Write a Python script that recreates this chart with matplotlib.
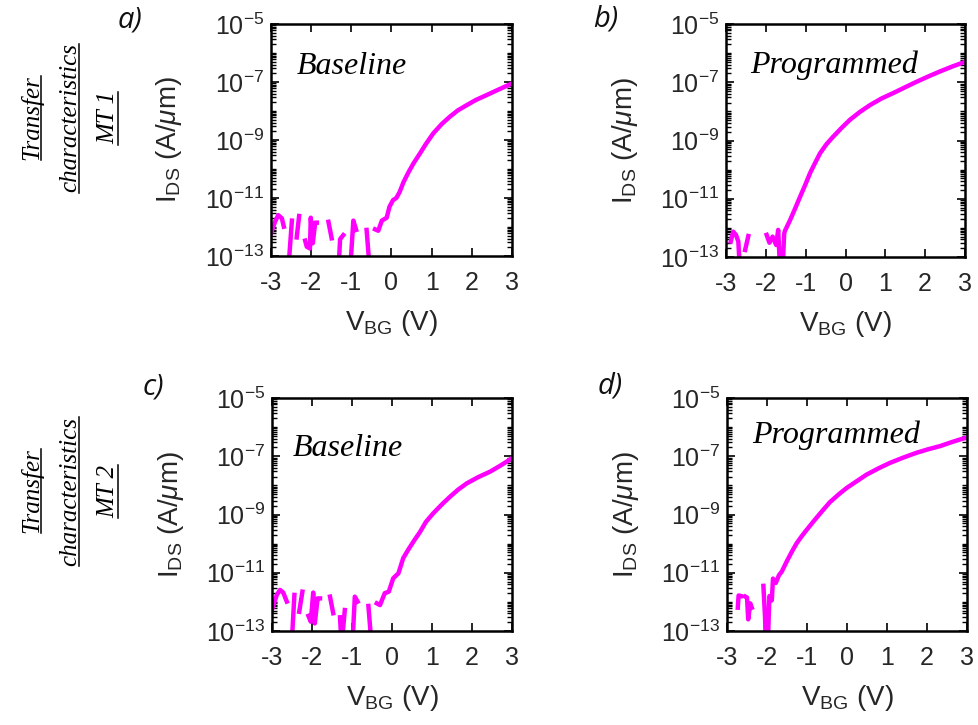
import numpy as np
import matplotlib
matplotlib.use("Agg")            # headless render straight to PNG
import matplotlib.pyplot as plt
from matplotlib.ticker import FixedLocator, LogLocator, FuncFormatter, NullFormatter
from matplotlib.lines import Line2D

NAN = np.nan

# Back-gate sweeps, V_BG in volts and log10(I_DS / (A/um)).
# NaN breaks the trace where the measured current went negative.
vbg_a = [-3.00, -2.90, -2.82, -2.73, -2.68, NAN,
         -2.57, -2.48, NAN,
         -2.36, -2.30, NAN,
         -2.15, -2.11, -2.03, -2.01, -1.96, -1.90, -1.86, NAN,
         -1.57, -1.49, NAN,
         -1.32, -1.28, -1.20, NAN,
         -1.03, -0.95, -0.88, NAN,
         -0.62, -0.54, NAN,
         -0.41, -0.33, -0.24, -0.12, -0.05, 0.04, 0.12, 0.20, 0.30, 0.42,
         0.55, 0.71, 0.85, 1.04, 1.25, 1.45, 1.65, 1.87, 2.10, 2.37, 2.65, 3.00]
log_ids_a = [-12.22, -11.82, -11.59, -11.70, -11.99, NAN,
             -13.50, -11.78, NAN,
             -12.36, -11.62, NAN,
             -12.47, -12.68, -12.74, -11.68, -12.56, -11.85, -11.85, NAN,
             -11.82, -12.39, NAN,
             -13.50, -12.42, -12.28, NAN,
             -13.50, -11.78, -12.10, NAN,
             -12.10, -13.50, NAN,
             -12.08, -12.13, -11.78, -11.68, -11.30, -11.07, -11.00, -10.80, -10.45, -10.12,
             -9.80, -9.46, -9.15, -8.77, -8.45, -8.20, -7.98, -7.80, -7.62, -7.45, -7.27, -7.05]

vbg_b = [-2.88, -2.82, -2.75, -2.69, -2.65, NAN,
         -2.52, -2.44, NAN,
         -1.98, -1.91, -1.83, -1.74, -1.69, -1.64, -1.58, -1.54,
         -1.52, -1.39, -1.26, -1.14, -1.01, -0.89, -0.76, -0.64, -0.48, -0.31,
         -0.10, 0.11, 0.36, 0.62, 0.90, 1.20, 1.50, 1.79, 2.08, 2.37, 2.68, 3.00]
log_ids_b = [-12.47, -12.13, -12.24, -12.47, -13.50, NAN,
             -12.76, -12.28, NAN,
             -12.24, -12.51, -12.30, -12.59, -12.07, -13.50, -13.50, -12.20,
             -12.10, -11.73, -11.32, -10.93, -10.52, -10.12, -9.76, -9.44, -9.13, -8.87,
             -8.57, -8.29, -8.02, -7.78, -7.56, -7.37, -7.17, -6.98, -6.80, -6.63, -6.46, -6.30]

vbg_c = [-2.99, -2.88, -2.80, -2.72, -2.63, NAN,
         -2.51, -2.44, NAN,
         -2.32, -2.24, NAN,
         -2.09, -2.03, -1.97, -1.93, -1.86, -1.80, NAN,
         -1.55, -1.47, NAN,
         -1.30, -1.26, -1.18, NAN,
         -0.99, -0.93, -0.86, NAN,
         -0.59, -0.51, NAN,
         -0.38, -0.30, -0.18, -0.08, 0.03, 0.16, 0.28, 0.41, 0.55, 0.70,
         0.85, 1.03, 1.25, 1.45, 1.65, 1.87, 2.15, 2.45, 2.70, 3.00]
log_ids_c = [-12.22, -11.76, -11.59, -11.68, -11.99, NAN,
             -13.50, -11.76, NAN,
             -12.34, -11.65, NAN,
             -12.48, -12.68, -11.68, -12.74, -11.88, -11.88, NAN,
             -11.82, -12.39, NAN,
             -12.53, -13.50, -12.28, NAN,
             -13.50, -11.82, -11.99, NAN,
             -12.14, -13.50, NAN,
             -12.05, -12.11, -11.70, -11.65, -11.19, -11.02, -10.50, -10.20, -9.90, -9.60,
             -9.25, -8.96, -8.65, -8.39, -8.15, -7.93, -7.72, -7.53, -7.33, -7.07]

vbg_d = [-2.73, -2.71, -2.65, NAN,
         -2.54, -2.50, -2.47, -2.42, -2.38, NAN,
         -2.09, -2.05, -2.03, -1.98, -1.94, -1.88, -1.85, -1.78, -1.70, -1.63,
         -1.51, -1.38, -1.26, -1.13, -1.01, -0.84, -0.62, -0.43, -0.20, -0.01, 0.25, 0.49,
         0.78, 1.07, 1.40, 1.74, 2.03, 2.33, 2.65, 3.00]
log_ids_d = [-12.20, -11.78, -11.80, NAN,
             -11.82, -11.85, -12.60, -12.05, -12.20, NAN,
             -11.45, -12.50, -13.50, -13.50, -11.80, -11.95, -11.20, -11.35, -11.08, -10.96,
             -10.62, -10.28, -9.99, -9.74, -9.53, -9.24, -8.88, -8.58, -8.30, -8.09, -7.85, -7.63,
             -7.42, -7.23, -7.05, -6.88, -6.76, -6.65, -6.50, -6.35]

panel_tags = ["a)", "b)", "c)", "d)"]
state_labels = ["Baseline", "Programmed", "Baseline", "Programmed"]
row_labels = [["Transfer", "characteristics", "MT 1"],
              ["Transfer", "characteristics", "MT 2"]]

W, H = 979, 725
TRACE = "#FF00FF"
INK = "#262626"

plt.rcParams.update({
    "font.family": ["Liberation Sans", "DejaVu Sans"],
    "mathtext.fontset": "custom",
    "mathtext.rm": "Liberation Sans",
    "mathtext.it": "Liberation Sans:italic",
    "mathtext.bf": "Liberation Sans:bold",
    "axes.unicode_minus": False,
})


def px_rect(x0, y0, x1, y1):
    """Axes rectangle from pixel box (top-left origin) to figure fractions."""
    return [x0 / W, 1 - y1 / H, (x1 - x0) / W, (y1 - y0) / H]


def decade_label(v, pos):
    e = int(round(np.log10(v)))
    return rf"$10^{{{e}}}$"


def draw_panel(ax, vbg, log_ids, state, text_xy):
    ax.plot(vbg, 10.0 ** np.asarray(log_ids, dtype=float), color=TRACE, lw=3.2)
    ax.set_yscale("log")
    ax.set_xlim(-3, 3)
    ax.set_ylim(1e-13, 1e-5)

    ax.xaxis.set_major_locator(FixedLocator(np.arange(-3, 4)))
    ax.yaxis.set_major_locator(FixedLocator([1e-13, 1e-11, 1e-9, 1e-7, 1e-5]))
    ax.yaxis.set_major_formatter(FuncFormatter(decade_label))
    ax.yaxis.set_minor_locator(LogLocator(base=10, subs=np.arange(1, 10), numticks=100))
    ax.yaxis.set_minor_formatter(NullFormatter())

    ax.tick_params(which="both", direction="in", top=True, right=True,
                   labelsize=18, colors="black", labelcolor=INK)
    ax.tick_params(which="major", length=6, width=1.2)
    ax.tick_params(which="minor", length=3.5, width=1.0)
    ax.tick_params(axis="x", pad=11)
    ax.tick_params(axis="y", pad=5)
    for sp in ax.spines.values():
        sp.set_linewidth(1.8)

    ax.set_xlabel(r"V$_{\rm BG}$ (V)", fontsize=20, color=INK)
    ax.set_ylabel(r"I$_{\rm DS}$ (A/$\mu$m)", fontsize=20, color=INK)
    ax.xaxis.set_label_coords(0.5, -0.225)
    ax.yaxis.set_label_coords(-0.36, 0.5)

    ax.text(text_xy[0], text_xy[1], state, transform=ax.transAxes,
            family="Liberation Serif", style="italic", fontsize=23,
            ha="left", va="baseline")


fig = plt.figure(figsize=(W / 100, H / 100), dpi=100)

ax_a = fig.add_axes(px_rect(271, 24, 512, 256))
ax_b = fig.add_axes(px_rect(726, 24, 965, 257))
ax_c = fig.add_axes(px_rect(272, 398, 512, 631))
ax_d = fig.add_axes(px_rect(727, 398, 967, 631))

draw_panel(ax_a, vbg_a, log_ids_a, state_labels[0], (0.107, 0.784))
draw_panel(ax_b, vbg_b, log_ids_b, state_labels[1], (0.100, 0.790))
draw_panel(ax_c, vbg_c, log_ids_c, state_labels[2], (0.088, 0.751))
draw_panel(ax_d, vbg_d, log_ids_d, state_labels[3], (0.103, 0.807))

# panel tags
tag_pos = [(130, 20), (606, 19), (153, 387), (610, 386)]
for tag, (x, y) in zip(panel_tags, tag_pos):
    fig.text(x / W, 1 - y / H, tag, family=["Open Sans", "DejaVu Sans"], style="italic",
             fontsize=21, ha="center", va="center", color="#111111")

# row captions, rotated and underlined line by line
baselines_px = [38, 76, 114]
row_centres_px = [118, 491]
captions = []
for words, yc in zip(row_labels, row_centres_px):
    for word, xb in zip(words, baselines_px):
        t = fig.text(xb / W, 1 - yc / H, word, family="Liberation Serif",
                     style="italic", fontsize=18, rotation=90,
                     rotation_mode="anchor", ha="center", va="baseline")
        captions.append((t, xb))

fig.canvas.draw()
renderer = fig.canvas.get_renderer()
for t, xb in captions:
    bb = t.get_window_extent(renderer)
    xu = (xb + 3.5) / W
    fig.add_artist(Line2D([xu, xu], [bb.y0 / H, bb.y1 / H],
                          transform=fig.transFigure, color="black", lw=1.1))

fig.savefig("out.png", dpi=100)
